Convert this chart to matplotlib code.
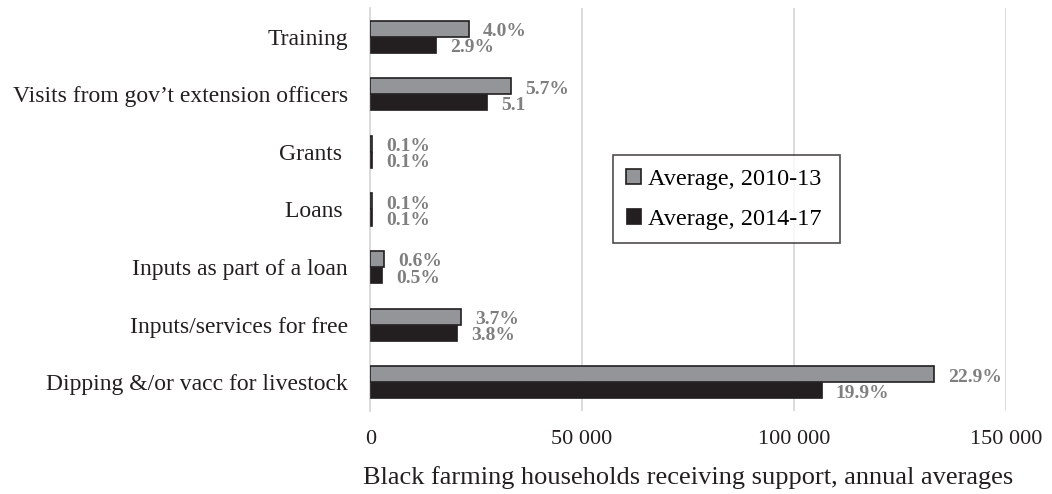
import numpy as np
import matplotlib.pyplot as plt

plt.rcParams['font.family'] = ['Liberation Serif', 'DejaVu Serif']

# data
categories = ["Training", "Visits from gov\u2019t extension officers", "Grants ", "Loans ",
              "Inputs as part of a loan", "Inputs/services for free",
              "Dipping &/or vacc for livestock"]
avg_2010_13 = [23300, 33200, 500, 500, 3300, 21500, 133000]
avg_2014_17 = [15600, 27600, 500, 500, 2800, 20500, 106600]
labels_2010_13 = ["4.0%", "5.7%", "0.1%", "0.1%", "0.6%", "3.7%", "22.9%"]
labels_2014_17 = ["2.9%", "5.1", "0.1%", "0.1%", "0.5%", "3.8%", "19.9%"]
xticks = [0, 50000, 100000, 150000]
xtick_labels = ["0", "50 000", "100 000", "150 000"]

fig = plt.figure(figsize=(10.52, 4.94), dpi=100)
ax = fig.add_axes([0.352, 0.168, 0.604, 0.816])

y = np.arange(len(categories))[::-1]
h = 0.28
gray_c = "#939598"
dark_c = "#231f20"
lab_c = "#7f7f7f"

b1 = ax.barh(y + h / 2, avg_2010_13, height=h, color=gray_c, edgecolor=dark_c,
             linewidth=1.2, label="Average, 2010-13", zorder=3)
b2 = ax.barh(y - h / 2, avg_2014_17, height=h, color=dark_c, edgecolor=dark_c,
             linewidth=0.5, label="Average, 2014-17", zorder=3)

for bar, txt in zip(b1, labels_2010_13):
    ax.annotate(txt, (bar.get_width(), bar.get_y() + bar.get_height() / 2),
                xytext=(14, -3), textcoords="offset pixels", va="center", ha="left",
                fontsize=14, fontweight="bold", color=lab_c)
for bar, txt in zip(b2, labels_2014_17):
    ax.annotate(txt, (bar.get_width(), bar.get_y() + bar.get_height() / 2),
                xytext=(14, -3), textcoords="offset pixels", va="center", ha="left",
                fontsize=14, fontweight="bold", color=lab_c)

ax.set_xlim(0, 150000)
ax.set_ylim(-0.5, len(categories) - 0.5)
ax.set_yticks(y)
ax.set_yticklabels(categories, fontsize=17, color="#231f20")
ax.set_xticks(xticks)
ax.set_xticklabels(xtick_labels, fontsize=16, color="#231f20")
ax.tick_params(axis="both", length=0)
ax.tick_params(axis="y", pad=16)
ax.tick_params(axis="x", pad=14)
ax.xaxis.grid(True, color="#d9d9d9", linewidth=1.3, zorder=0)
for s in ["top", "right", "bottom"]:
    ax.spines[s].set_visible(False)
ax.spines["left"].set_color("#d9d9d9")
ax.spines["left"].set_linewidth(1.3)

ax.set_xlabel("Black farming households receiving support, annual averages",
              fontsize=19, color="#231f20", labelpad=12)

leg = ax.legend(loc="lower left", bbox_to_anchor=(0.382, 0.417, 0.357, 0.223),
                mode="expand", fontsize=17.5, frameon=True, fancybox=False,
                edgecolor="#231f20", handlelength=0.6, handleheight=0.6,
                handletextpad=0.3, labelspacing=0.75, borderaxespad=0,
                borderpad=0.55)
leg.get_frame().set_linewidth(1.2)

fig.savefig("out.png", dpi=100)
